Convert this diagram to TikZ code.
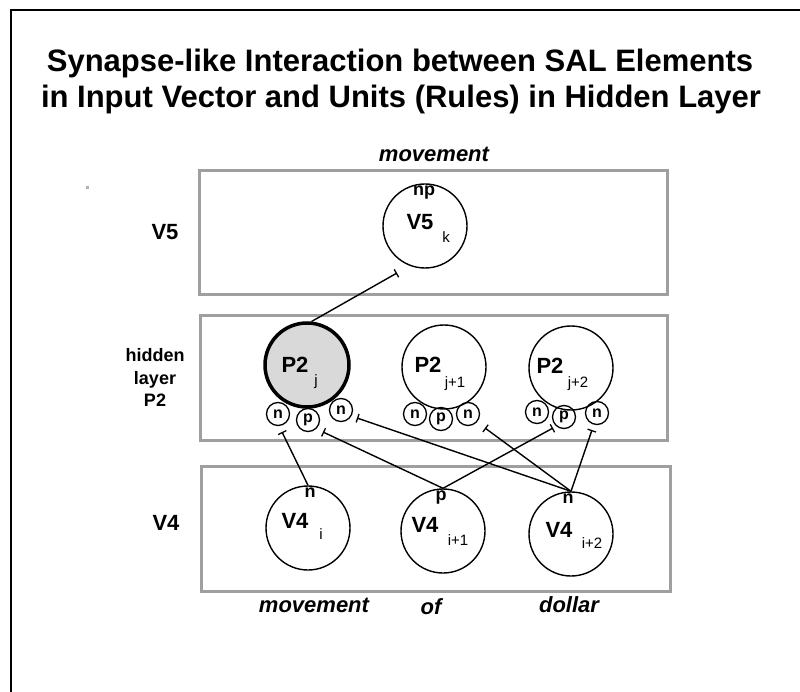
\documentclass[tikz,border=0pt]{standalone}
\usepackage{fontspec}
\setmainfont{Liberation Sans}
\usetikzlibrary{arrows.meta,calc}
\newcommand{\fs}[1]{\fontsize{#1}{#1}\selectfont}
\begin{document}
\begin{tikzpicture}[x=1pt,y=-1pt,
  lay/.style={draw=gray!75, line width=3pt},
  bigc/.style={circle, draw, line width=1.4pt, minimum size=84pt, inner sep=0pt},
  smc/.style={circle, draw, line width=1.3pt, minimum size=23pt, inner sep=0pt, font=\fs{16}\bfseries},
  lbl/.style={anchor=base, inner sep=0pt, font=\fs{22}\bfseries},
  side/.style={anchor=base, inner sep=0pt, font=\fs{18}\bfseries},
  sub/.style={anchor=base, inner sep=0pt, font=\fs{15}},
  word/.style={anchor=base, inner sep=0pt, font=\fs{22}\bfseries\itshape},
  ttl/.style={anchor=base, inner sep=0pt, font=\fs{31}\bfseries},
  conn/.style={line width=1.4pt},
  syn/.style={conn, -{Bar[width=9pt,line width=1.3pt]}}
  ]
\useasboundingbox (0,0) rectangle (800,692);
% frame
\draw[line width=2pt] (10.5,692) -- (10.5,10.5) -- (800,10.5);
% title
\node[ttl] (t1) at (400,72) {Synapse-like Interaction between SAL Elements};
\node[ttl] (t2) at (401,108) {in Input Vector and Units (Rules) in Hidden Layer};
\node[word] (wtop) at (434,162) {movement};
% dot
\node[fill=gray!60, minimum size=3pt, inner sep=0pt] (dot) at (87,188) {};
% layer boxes
\draw[lay] (199,171) rectangle (667,295);
\draw[lay] (200,316) rectangle (667,440);
\draw[lay] (201,466) rectangle (670,591);
% side labels
\node[lbl] (lV5) at (165,240) {V5};
\node[side] (lh1) at (155,362) {hidden};
\node[side] (lh2) at (155,384) {layer};
\node[side] (lh3) at (155,406) {P2};
\node[lbl] (lV4) at (166,530) {V4};
% V5 unit
\node[bigc] (V5k) at (425,226) {};
\node[side] (V5np) at (424,196) {np};
\node[lbl] (V5t) at (420,230) {V5};
\node[sub] (V5s) at (446,243) {k};
% hidden units
\node[bigc, line width=3.5pt, fill=gray!30] (P2j) at (307,365) {};
\node[lbl] (P2jt) at (295,372) {P2};
\node[sub] (P2js) at (316,385) {j};
\node[bigc] (P2j1) at (444,367) {};
\node[lbl] (P2j1t) at (428,372) {P2};
\node[sub] (P2j1s) at (455,387) {j+1};
\node[bigc] (P2j2) at (571,368) {};
\node[lbl] (P2j2t) at (550,373) {P2};
\node[sub] (P2j2s) at (578,387) {j+2};
% small synapse sites
\node[smc] (a1) at (278,414) {n};
\node[smc] (a2) at (308,420) {p};
\node[smc] (a3) at (341,410) {n};
\node[smc] (b1) at (415,414) {n};
\node[smc] (b2) at (441,419) {p};
\node[smc] (b3) at (468,414) {n};
\node[smc] (c1) at (537,412) {n};
\node[smc] (c2) at (564,417) {p};
\node[smc] (c3) at (597,413) {n};
% V4 units
\node[bigc] (V4i) at (308,528) {};
\node[side] (V4in) at (310,497) {n};
\node[lbl] (V4it) at (295,528) {V4};
\node[sub] (V4is) at (321,539) {i};
\node[bigc] (V4i1) at (443,531) {};
\node[side] (V4i1p) at (441,500) {p};
\node[lbl] (V4i1t) at (425,532) {V4};
\node[sub] (V4i1s) at (458,545) {i+1};
\node[bigc] (V4i2) at (571,534) {};
\node[side] (V4i2n) at (568,503) {n};
\node[lbl] (V4i2t) at (559,537) {V4};
\node[sub] (V4i2s) at (592,548) {i+2};
% words
\node[word] (w1) at (314,612) {movement};
\node[word] (w2) at (431,614) {of};
\node[word] (w3) at (569,612) {dollar};
% synapse end points
\coordinate (s1) at (282,432);
\coordinate (s2) at (323,432);
\coordinate (s3) at (357,418);
\coordinate (s4) at (485,428);
\coordinate (s5) at (553,428);
\coordinate (s6) at (592,430);
\coordinate (s7) at (397,273);
% connectors
\draw[syn] (V4i.north) -- (s1);
\draw[syn] (V4i1.north) -- (s2);
\draw[syn] (V4i2.north) -- (s3);
\draw[syn] (V4i2.north) -- (s4);
\draw[syn] (V4i1.north) -- (s5);
\draw[syn] (V4i2.north) -- (s6);
\draw[syn] (P2j.84) -- (s7);
\end{tikzpicture}
\end{document}
